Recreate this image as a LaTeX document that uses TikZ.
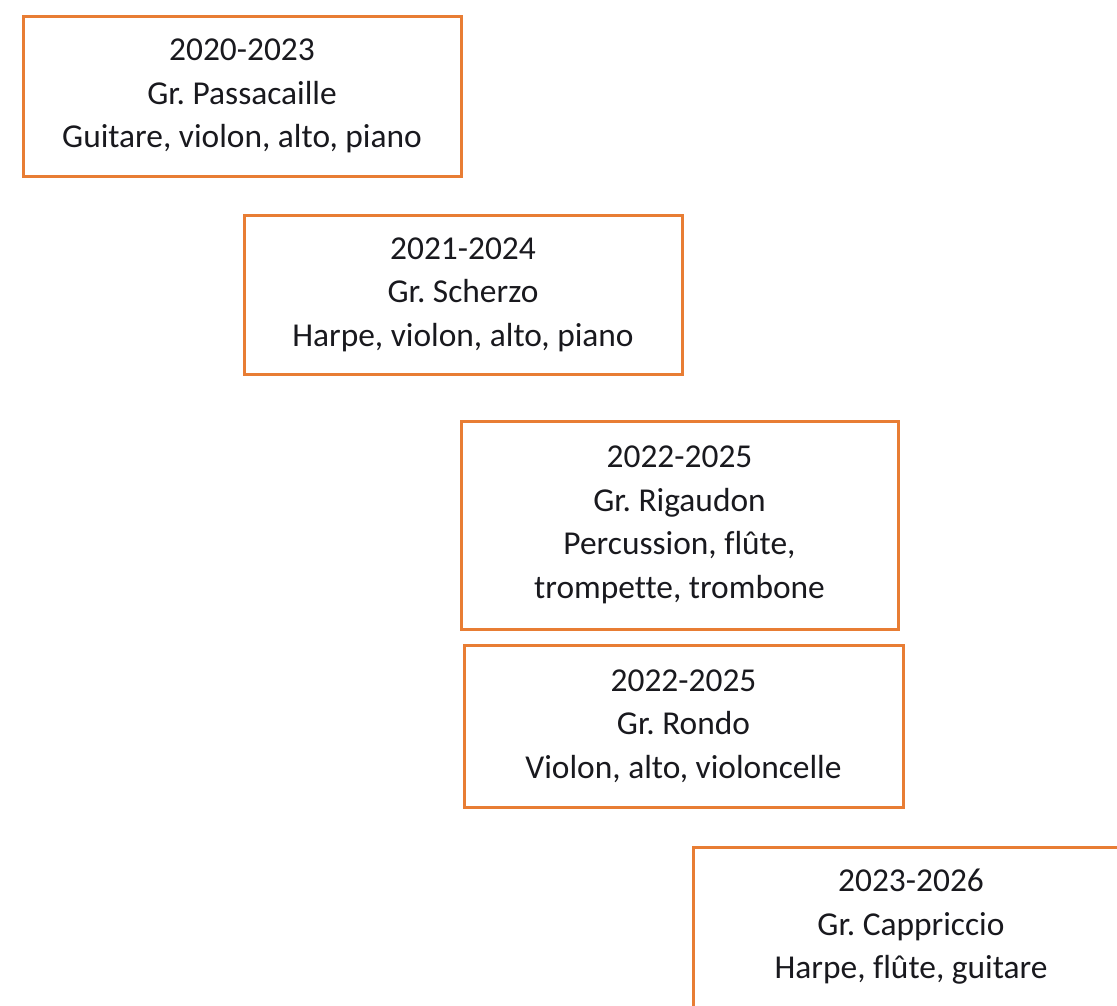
\documentclass[tikz,border=0pt]{standalone}
\usepackage{fontspec}
\setmainfont{Carlito}[Ligatures=NoCommon]
\definecolor{boxorange}{RGB}{232,125,52}
\definecolor{boxtext}{RGB}{25,25,30}
\frenchspacing
\begin{document}
\begin{tikzpicture}[x=1pt,y=-1pt,
  yearbox/.style={draw=boxorange, line width=3pt, fill=white, align=center,
    inner sep=0pt, text=boxtext, font=\fontsize{33.4}{43.5}\selectfont}]
\useasboundingbox (0,0) rectangle (1117,1005);
\clip (0,0) rectangle (1117,1005);
\fill[white] (0,0) rectangle (1117,1005);
\node[yearbox, minimum width=438pt, minimum height=160pt] (passacaille) at (242,96)
  {2020-2023\\Gr. Passacaille\\Guitare, violon, alto, piano};
\node[yearbox, minimum width=438pt, minimum height=159pt] (scherzo) at (463,294.5)
  {2021-2024\\Gr. Scherzo\\Harpe, violon, alto, piano};
\node[yearbox, minimum width=437pt, minimum height=208pt] (rigaudon) at (679.5,525)
  {2022-2025\\Gr. Rigaudon\\Percussion, flûte,\\trompette, trombone};
\node[yearbox, minimum width=439pt, minimum height=162pt] (rondo) at (683.5,726)
  {2022-2025\\Gr. Rondo\\Violon, alto, violoncelle};
\node[yearbox, minimum width=436pt, minimum height=160pt] (cappriccio) at (911,927)
  {2023-2026\\Gr. Cappriccio\\Harpe, flûte, guitare};
\end{tikzpicture}
\end{document}
